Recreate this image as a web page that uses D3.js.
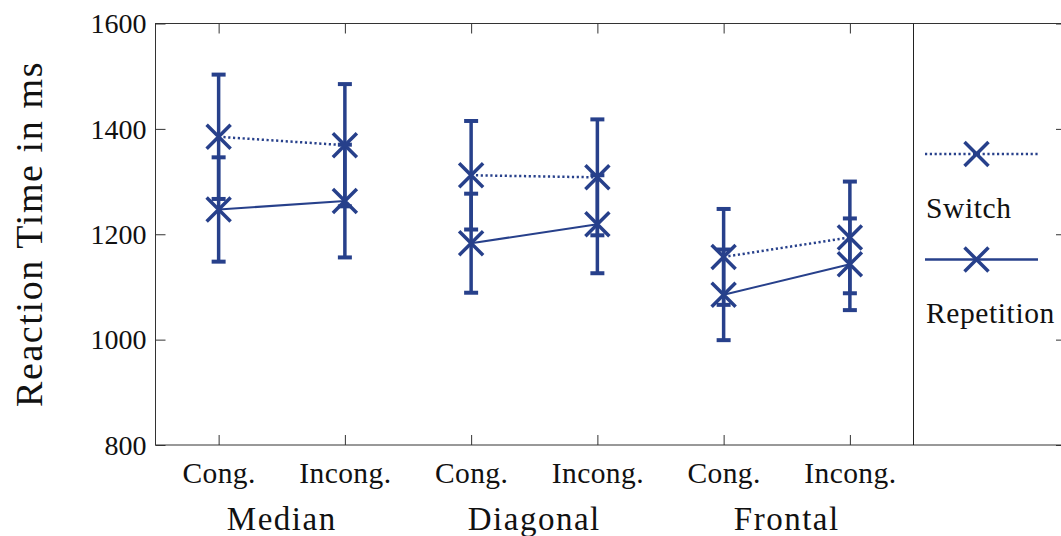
<!DOCTYPE html>
<html><head><meta charset="utf-8">
<script src="https://cdn.jsdelivr.net/npm/d3@7/dist/d3.min.js"></script>
<style>body{margin:0;background:#fff}svg{display:block}</style>
</head><body>
<svg id="c" width="1061" height="536"></svg>
<script>
const categories = ["Cong.", "Incong.", "Cong.", "Incong.", "Cong.", "Incong."];
const groups = ["Median", "Diagonal", "Frontal"];
const switchMean = [1385, 1369, 1312, 1308, 1157, 1194];
const switchErr  = [118, 116, 103, 110, 91, 106];
const repMean    = [1247, 1263, 1183, 1219, 1085, 1143];
const repErr     = [99, 107, 94, 93, 86, 87];
const yTicks = [800, 1000, 1200, 1400, 1600];
const seriesNames = ["Switch", "Repetition"];

const color = "#27408B";
const font = "'Liberation Serif', 'DejaVu Serif', serif";
const svg = d3.select("#c");

const x = d3.scaleLinear().domain([-0.5, 5.5]).range([155.5, 913]);
const y = d3.scaleLinear().domain([800, 1600]).range([445, 23.5]);
const rightEdge = 1066;

// frame
svg.append("rect").attr("x", 155.5).attr("y", y(1600)).attr("width", rightEdge - 155.5)
  .attr("height", y(800) - y(1600)).attr("fill", "none").attr("stroke", "#333").attr("stroke-width", 1);
svg.append("line").attr("x1", 913.5).attr("x2", 913.5).attr("y1", y(1600)).attr("y2", y(800))
  .attr("stroke", "#222").attr("stroke-width", 1);

// left axis
const gl = svg.append("g").attr("transform", "translate(155.5,0)")
  .call(d3.axisLeft(y).tickValues(yTicks).tickSize(-10).tickPadding(9).tickFormat(d3.format("d")));
gl.select(".domain").remove();
gl.selectAll("line").attr("stroke", "#333");
gl.selectAll("text").attr("font-family", font).attr("font-size", 28).attr("fill", "#111").attr("dy", "0.33em");

// right axis (ticks only)
const gr = svg.append("g").attr("transform", `translate(${rightEdge},0)`)
  .call(d3.axisRight(y).tickValues(yTicks).tickSize(-10).tickFormat(""));
gr.select(".domain").remove();
gr.selectAll("line").attr("stroke", "#333");

// bottom axis
const idx = d3.range(categories.length);
const gb = svg.append("g").attr("transform", `translate(0,${y(800)})`)
  .call(d3.axisBottom(x).tickValues(idx).tickSize(-10).tickFormat(i => categories[i]));
gb.select(".domain").remove();
gb.selectAll("line").attr("stroke", "#333");
gb.selectAll("text").attr("font-family", font).attr("font-size", 29.5).attr("fill", "#111")
  .attr("letter-spacing", 0.4).attr("y", 38).attr("dy", 0);

// top axis (ticks only)
const gt = svg.append("g").attr("transform", `translate(0,${y(1600)})`)
  .call(d3.axisTop(x).tickValues(idx).tickSize(-10).tickFormat(""));
gt.select(".domain").remove();
gt.selectAll("line").attr("stroke", "#333");

// group labels
svg.selectAll("text.grp").data(groups).enter().append("text").attr("class", "grp")
  .attr("x", (d, i) => (x(2 * i) + x(2 * i + 1)) / 2).attr("y", 530)
  .attr("text-anchor", "middle").attr("font-family", font).attr("font-size", 33).attr("fill", "#111")
  .attr("letter-spacing", 1.5)
  .text(d => d);

// y title
svg.append("text").attr("transform", "translate(42,234) rotate(-90)")
  .attr("text-anchor", "middle").attr("font-family", font).attr("font-size", 38).attr("fill", "#111")
  .attr("letter-spacing", 1.6)
  .text("Reaction Time in ms");

function cross(g, cx, cy) {
  const s = 12;
  g.append("path").attr("d", `M${cx - s},${cy - s}L${cx + s},${cy + s}M${cx - s},${cy + s}L${cx + s},${cy - s}`)
    .attr("stroke", color).attr("stroke-width", 3.5).attr("fill", "none");
}

function drawSeries(means, errs, dashed) {
  const g = svg.append("g");
  means.forEach((m, i) => {
    const cx = x(i);
    g.append("line").attr("x1", cx).attr("x2", cx).attr("y1", y(m + errs[i])).attr("y2", y(m - errs[i]))
      .attr("stroke", color).attr("stroke-width", 3.5);
    [m + errs[i], m - errs[i]].forEach(v => {
      g.append("line").attr("x1", cx - 7).attr("x2", cx + 7).attr("y1", y(v)).attr("y2", y(v))
        .attr("stroke", color).attr("stroke-width", 4);
    });
  });
  for (let k = 0; k < 3; k++) {
    const pts = [2 * k, 2 * k + 1].map(i => [x(i), y(means[i])]);
    g.append("path").attr("d", d3.line()(pts)).attr("fill", "none").attr("stroke", color)
      .attr("stroke-width", dashed ? 2.5 : 2).attr("stroke-dasharray", dashed ? "2.2,2.6" : null);
  }
  means.forEach((m, i) => cross(g, x(i), y(m)));
}
drawSeries(repMean, repErr, false);
drawSeries(switchMean, switchErr, true);

// legend
const legY = [154, 259.5];
const labY = [218, 323];
seriesNames.forEach((n, k) => {
  const g = svg.append("g");
  g.append("line").attr("x1", 925).attr("x2", 1038).attr("y1", legY[k]).attr("y2", legY[k])
    .attr("stroke", color).attr("stroke-width", 2.5)
    .attr("stroke-dasharray", k === 0 ? "2.2,2.6" : null);
  cross(g, 976.5, legY[k]);
  g.append("text").attr("x", 926).attr("y", labY[k]).attr("font-family", font).attr("font-size", 29.5)
    .attr("letter-spacing", 0.6).attr("fill", "#111").text(n);
});
</script>
</body></html>
